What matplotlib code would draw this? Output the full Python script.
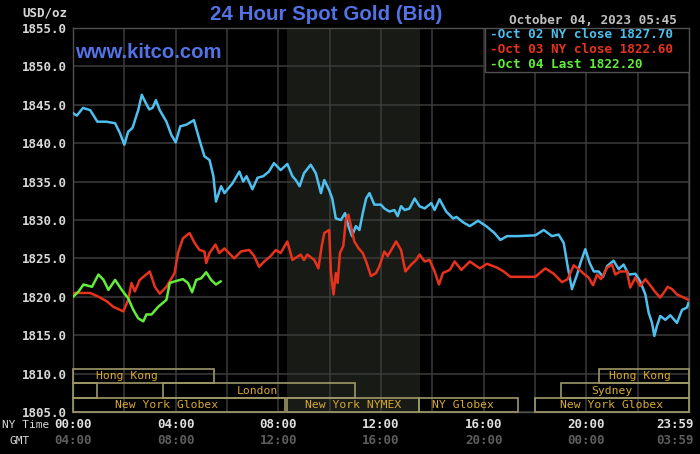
import matplotlib
matplotlib.use("Agg")
import matplotlib.pyplot as plt
from matplotlib.patches import Rectangle
from matplotlib import transforms as mtrans

# ---------------- data ----------------
blue_h = [0.00, 0.15, 0.39, 0.67, 0.95, 1.30, 1.64, 1.83, 2.00, 2.15, 2.32, 2.54, 2.68, 2.84, 2.97,
          3.10, 3.23, 3.38, 3.64, 3.83, 4.00, 4.18, 4.41, 4.61, 4.71, 4.93, 5.12, 5.32, 5.47, 5.57,
          5.77, 5.90, 6.22, 6.48, 6.63, 6.76, 6.99, 7.19, 7.41, 7.63, 7.83, 8.09, 8.35, 8.55, 8.68,
          8.83, 9.00, 9.26, 9.46, 9.66, 9.79, 9.98, 10.10, 10.24, 10.44, 10.60, 10.73, 10.87, 11.02,
          11.16, 11.29, 11.42, 11.55, 11.74, 12.00, 12.13, 12.33, 12.52, 12.65, 12.78, 12.92, 13.11,
          13.31, 13.50, 13.70, 13.96, 14.09, 14.28, 14.54, 14.81, 14.94, 15.20, 15.46, 15.78, 16.10,
          16.42, 16.65, 16.91, 17.30, 18.01, 18.34, 18.66, 18.92, 19.12, 19.27, 19.44, 19.64, 19.77,
          19.96, 20.13, 20.29, 20.48, 20.65, 20.81, 21.06, 21.26, 21.45, 21.65, 21.91, 22.10, 22.30,
          22.43, 22.56, 22.65, 22.75, 22.88, 23.08, 23.27, 23.53, 23.73, 23.92, 23.98]
blue_p = [1843.9, 1843.6, 1844.6, 1844.3, 1842.8, 1842.8, 1842.6, 1841.3, 1839.8, 1841.5, 1842.0,
          1844.3, 1846.3, 1845.2, 1844.4, 1844.6, 1845.6, 1844.3, 1842.8, 1841.1, 1840.1, 1842.2,
          1842.4, 1842.8, 1843.0, 1840.4, 1838.3, 1837.8, 1835.7, 1832.4, 1834.4, 1833.5, 1834.8,
          1836.3, 1835.0, 1835.7, 1834.0, 1835.5, 1835.7, 1836.3, 1837.4, 1836.5, 1837.3, 1835.7,
          1835.2, 1834.4, 1836.1, 1837.2, 1836.1, 1833.5, 1835.2, 1833.9, 1832.8, 1830.2, 1830.0,
          1830.9, 1829.2, 1827.9, 1829.2, 1828.7, 1830.9, 1832.8, 1833.5, 1832.0, 1832.0, 1831.5,
          1831.1, 1831.3, 1830.5, 1831.8, 1831.3, 1831.5, 1832.8, 1831.8, 1831.5, 1832.2, 1831.3,
          1832.7, 1831.1, 1830.2, 1830.4, 1829.7, 1829.2, 1829.9, 1829.2, 1828.3, 1827.4, 1827.9,
          1827.9, 1828.0, 1828.7, 1827.9, 1828.1, 1827.0, 1824.0, 1821.0, 1822.9, 1824.4, 1826.2,
          1824.4, 1823.3, 1823.3, 1822.6, 1824.0, 1824.7, 1823.6, 1824.2, 1822.9, 1823.0, 1822.0,
          1820.3, 1817.9, 1816.6, 1814.9, 1816.2, 1817.5, 1817.0, 1817.6, 1816.6, 1818.3, 1818.6,
          1819.2]

red_h = [0.00, 0.28, 0.67, 1.00, 1.32, 1.57, 1.96, 2.15, 2.28, 2.41, 2.60, 2.99, 3.19, 3.38, 3.64,
         3.96, 4.09, 4.28, 4.54, 4.74, 4.93, 5.12, 5.19, 5.32, 5.55, 5.70, 5.90, 6.28, 6.54, 6.86,
         7.06, 7.25, 7.45, 7.70, 7.90, 8.09, 8.35, 8.55, 8.87, 9.00, 9.13, 9.40, 9.56, 9.69, 9.79,
         9.98, 10.05, 10.15, 10.24, 10.31, 10.40, 10.53, 10.63, 10.73, 10.83, 10.96, 11.13, 11.29,
         11.42, 11.61, 11.81, 11.94, 12.13, 12.26, 12.59, 12.78, 12.95, 13.18, 13.37, 13.50, 13.70,
         13.89, 14.09, 14.26, 14.41, 14.68, 14.87, 15.13, 15.46, 15.85, 16.13, 16.52, 16.78, 17.04,
         18.01, 18.40, 18.73, 19.05, 19.27, 19.51, 19.70, 19.90, 20.09, 20.26, 20.42, 20.57, 20.81,
         21.00, 21.13, 21.32, 21.58, 21.71, 21.91, 22.10, 22.30, 22.49, 22.69, 22.88, 23.01, 23.17,
         23.34, 23.53, 23.73, 23.98]
red_p = [1820.5, 1820.5, 1820.5, 1820.0, 1819.4, 1818.7, 1818.1, 1819.6, 1821.8, 1820.7, 1822.2,
         1823.3, 1821.3, 1820.4, 1821.3, 1823.1, 1825.7, 1827.6, 1828.3, 1827.0, 1826.1, 1825.9,
         1824.4, 1825.7, 1826.8, 1825.7, 1826.3, 1825.0, 1825.9, 1826.1, 1825.3, 1823.9, 1824.6,
         1825.3, 1826.1, 1825.7, 1827.2, 1824.8, 1825.5, 1824.8, 1825.5, 1824.8, 1823.7, 1826.6,
         1828.3, 1828.7, 1823.1, 1820.3, 1823.1, 1821.8, 1825.7, 1826.6, 1830.0, 1830.7, 1829.2,
         1827.2, 1826.3, 1825.7, 1824.6, 1822.7, 1823.1, 1824.0, 1825.9, 1825.3, 1827.2, 1826.1,
         1823.3, 1824.2, 1824.8, 1825.5, 1824.6, 1824.8, 1823.3, 1821.6, 1823.1, 1823.5, 1824.6,
         1823.5, 1824.6, 1823.7, 1824.3, 1823.8, 1823.3, 1822.6, 1822.6, 1823.7, 1823.0, 1821.9,
         1822.3, 1824.1, 1823.6, 1823.0, 1822.5, 1821.5, 1822.9, 1822.3, 1823.8, 1824.2, 1822.9,
         1823.3, 1823.3, 1821.2, 1822.5, 1821.4, 1822.3, 1821.5, 1820.6, 1819.9, 1820.5, 1821.3,
         1821.0, 1820.3, 1820.0, 1819.6]

green_h = [0.00, 0.22, 0.41, 0.74, 0.99, 1.19, 1.38, 1.64, 1.90, 2.15, 2.35, 2.54, 2.74, 2.86, 3.06,
           3.32, 3.64, 3.77, 3.96, 4.28, 4.48, 4.64, 4.80, 4.99, 5.19, 5.38, 5.57, 5.75]
green_p = [1820.0, 1820.7, 1821.6, 1821.3, 1822.9, 1822.2, 1820.9, 1822.2, 1820.9, 1819.8, 1818.3,
           1817.2, 1816.8, 1817.7, 1817.7, 1818.7, 1819.6, 1821.8, 1822.0, 1822.3, 1821.8, 1820.6,
           1822.2, 1822.4, 1823.2, 1822.2, 1821.6, 1822.0]

legend_labels = ["Oct 02 NY close 1827.70", "Oct 03 NY close 1822.60", "Oct 04 Last 1822.20"]
ny_ticks = [0, 4, 8, 12, 16, 20]
ny_labels = ["00:00", "04:00", "08:00", "12:00", "16:00", "20:00"]
gmt_labels = ["04:00", "08:00", "12:00", "16:00", "20:00", "00:00"]
end_ny, end_gmt = "23:59", "03:59"
y_ticks = [1805, 1810, 1815, 1820, 1825, 1830, 1835, 1840, 1845, 1850, 1855]

# sessions: label, start hour, end hour, row, label centre hour
sessions = [("Hong Kong", 0, 5.5, 2, 2.12),
            ("", 0, 0.95, 1, None),
            ("London", 3.5, 11.0, 1, 7.17),
            ("New York Globex", 0, 8.25, 0, 3.64),
            ("New York NYMEX", 8.33, 13.5, 0, 10.9),
            ("NY Globex", 13.5, 17.33, 0, 15.2),
            ("Hong Kong", 20.5, 24, 2, 22.08),
            ("Sydney", 19, 24, 1, 21.0),
            ("New York Globex", 18, 24, 0, 21.0)]
nymex_span = (8 + 20 / 60, 13.5)

# ---------------- style ----------------
BLUE, RED, GREEN = "#4ec0ef", "#e8321c", "#62ee3a"
MONO = "DejaVu Sans Mono"
TICKC = "#d8d8d8"

fig = plt.figure(figsize=(7.0, 4.54), dpi=100, facecolor="black")
W, H = 700, 454
ax = fig.add_axes([73 / W, 1 - 412 / H, 616 / W, 384 / H], facecolor="black")
ax.set_xlim(0, 24)
ax.set_ylim(1805, 1855)

ax.axvspan(*nymex_span, color="#171a15", zorder=0, lw=0)

for x in range(0, 25, 2):
    ax.axvline(x, color="#3c3c3c", lw=1.1, zorder=1)
for y in y_ticks:
    ax.axhline(y, color="#3c3c3c", lw=1.1, zorder=1)

for s in ax.spines.values():
    s.set_color("#505050")
    s.set_linewidth(1.0)

ax.plot(blue_h, blue_p, color=BLUE, lw=1.8, zorder=4, solid_joinstyle="round")
ax.plot(red_h, red_p, color=RED, lw=1.8, zorder=4, solid_joinstyle="round")
ax.plot(green_h, green_p, color=GREEN, lw=1.8, zorder=5, solid_joinstyle="round")

# y ticks
ax.set_yticks(y_ticks)
ax.set_yticklabels([f"{v:.1f}" for v in y_ticks], fontfamily=MONO, fontsize=9,
                   fontweight="bold", color=TICKC)
ax.tick_params(axis="y", length=0, pad=4.5)
ax.set_xticks([])

# session boxes
tb = mtrans.blended_transform_factory(ax.transData, ax.transAxes)
rows = [(0.0, 0.037), (0.037, 0.0747), (0.0747, 0.111)]
for lab, x0, x1, r, xc in sessions:
    y0, y1 = rows[r]
    ax.add_patch(Rectangle((x0, y0), x1 - x0, y1 - y0, transform=tb, fill=False,
                           edgecolor="#9e9868", lw=1.2, zorder=3, clip_on=False))
    if lab:
        ax.text(xc, (y0 + y1) / 2, lab, transform=tb, ha="center", va="center",
                fontfamily=MONO, fontsize=8.2, color="#d8aa30", zorder=6)

# legend box
ax.add_patch(Rectangle((0.669, 0.885), 0.331, 0.115, transform=ax.transAxes,
                       facecolor="black", edgecolor="#505050", lw=1.0, zorder=7))
for i, (lab, c) in enumerate(zip(legend_labels, [BLUE, RED, GREEN])):
    ax.text(0.677, 0.982 - i * 0.038, "-" + lab, transform=ax.transAxes, ha="left",
            va="center", fontfamily=MONO, fontsize=9.2, fontweight="bold", color=c, zorder=8)

# titles
fig.text(326.5 / W, 1 - 15 / H, "24 Hour Spot Gold (Bid)", ha="center", va="center",
         fontfamily="Liberation Sans", fontsize=14.8, fontweight="bold", color="#5272e6")
fig.text(75 / W, 1 - 52 / H, "www.kitco.com", ha="left", va="center",
         fontfamily="Liberation Sans", fontsize=14.6, fontweight="bold", color="#5272e6")
fig.text(677 / W, 1 - 20 / H, "October 04, 2023 05:45", ha="right", va="center",
         fontfamily=MONO, fontsize=9.2, fontweight="bold", color="#c0c0c0")
fig.text(67 / W, 1 - 13 / H, "USD/oz", ha="right", va="center",
         fontfamily=MONO, fontsize=9, fontweight="bold", color=TICKC)

# x labels
tx = mtrans.blended_transform_factory(ax.transData, fig.transFigure)
y_ny, y_gmt = 1 - 425 / H, 1 - 441 / H
for h, a, b in zip(ny_ticks, ny_labels, gmt_labels):
    ax.text(h, y_ny, a, transform=tx, ha="center", va="center", fontfamily=MONO,
            fontsize=9, fontweight="bold", color="#e0e0e0", clip_on=False)
    ax.text(h, y_gmt, b, transform=tx, ha="center", va="center", fontfamily=MONO,
            fontsize=9, fontweight="bold", color="#5e5e5e", clip_on=False)
tx_end = mtrans.offset_copy(tx, fig=fig, x=5, y=0, units="dots")
ax.text(24, y_ny, end_ny, transform=tx_end, ha="right", va="center", fontfamily=MONO,
        fontsize=9, fontweight="bold", color="#e0e0e0", clip_on=False)
ax.text(24, y_gmt, end_gmt, transform=tx_end, ha="right", va="center", fontfamily=MONO,
        fontsize=9, fontweight="bold", color="#5e5e5e", clip_on=False)
fig.text(2 / W, y_ny, "NY Time", ha="left", va="center", fontfamily=MONO, fontsize=8,
         color=TICKC)
fig.text(20 / W, y_gmt, "GMT", ha="center", va="center", fontfamily=MONO, fontsize=8,
         color=TICKC)

fig.savefig("out.png", dpi=100, facecolor="black")
